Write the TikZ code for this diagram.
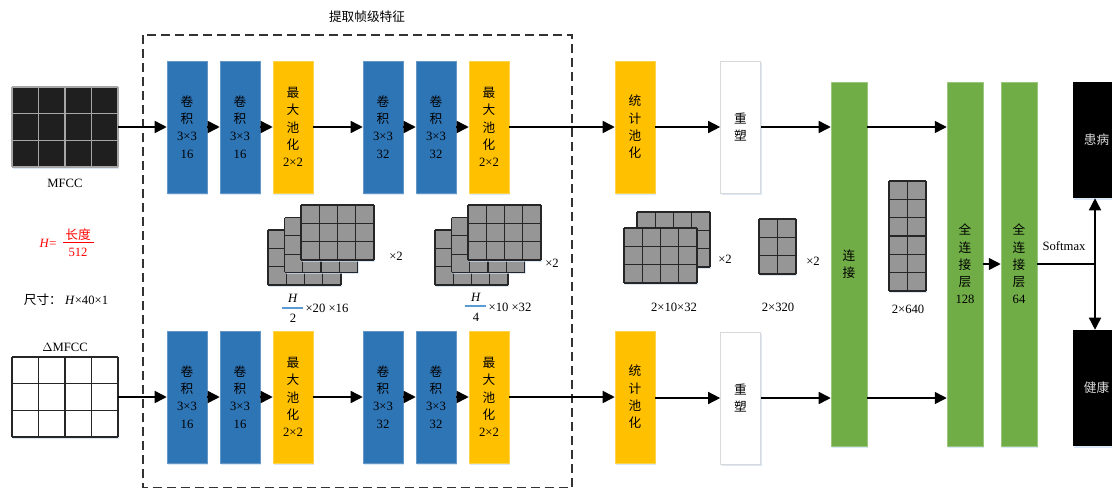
\documentclass[tikz,border=0pt]{standalone}
\usepackage{fontspec}
\setmainfont{Liberation Serif}
\newfontfamily\cjk{Noto Sans CJK SC}
\usetikzlibrary{arrows.meta,shadows}
\definecolor{cblue}{HTML}{2E75B6}
\definecolor{corange}{HTML}{FFC000}
\definecolor{cgreen}{HTML}{70AD47}
\definecolor{cgray}{HTML}{969696}
\definecolor{cglow}{HTML}{C9DDF2}
\definecolor{cbar}{HTML}{5B9BD5}
\newcommand\zh[1]{{\cjk #1}}
\newcommand\gridblk[7]{%
  \fill[#7,drop shadow={shadow xshift=1pt,shadow yshift=-1.5pt,fill=cglow,opacity=0.7}] (#1,#2) rectangle ++({#3*#5},{#4*#6});
  \foreach \ii in {0,...,#3} \draw[gl] ({#1+\ii*#5},#2) -- ++(0,{#4*#6});
  \foreach \jj in {0,...,#4} \draw[gl] (#1,{#2+\jj*#6}) -- ++({#3*#5},0);
}
\begin{document}
\begin{tikzpicture}[x=0.75pt,y=-0.75pt,font=\fontsize{9.5}{13}\selectfont,
  blk/.style={minimum width=30pt,minimum height=99pt,inner sep=0pt,align=center,
    drop shadow={shadow xshift=1pt,shadow yshift=-1.5pt,fill=cglow,opacity=0.7}},
  conv/.style={blk,fill=cblue,draw=cblue!75!white,line width=0.4pt},
  pool/.style={blk,fill=corange,draw=corange!70!white,line width=0.4pt},
  rshp/.style={blk,fill=white,draw=black!15,line width=0.5pt},
  fc/.style={blk,fill=cgreen,draw=cgreen!70!white,line width=0.4pt,minimum width=27pt,minimum height=273pt},
  outbox/.style={fill=black,minimum width=36pt,minimum height=87pt,inner sep=0pt,text=white!85!black,
    drop shadow={shadow xshift=1pt,shadow yshift=-1.5pt,fill=cglow,opacity=0.7}},
  arr/.style={-{Triangle[length=9pt,width=9pt]},line width=1.1pt},
  gl/.style={line width=0.8pt,draw=black!85},
  glw/.style={line width=0.8pt,draw=black!35},
  lbl/.style={inner sep=1pt},
]
\useasboundingbox (0,0) rectangle (1112,489);

% dashed frame and title
\draw[line width=0.9pt,draw=black!80,dash pattern=on 7pt off 3.5pt] (143,35) rectangle (572,487.5);
\node[lbl] (title) at (367,17) {\zh{提取帧级特征}};

% input grids
\node[minimum width=79.5pt,minimum height=60pt,inner sep=0pt] (mfcc) at (65,127) {};
\fill[black!88,drop shadow={shadow xshift=1pt,shadow yshift=-1.5pt,fill=cglow,opacity=0.7}] (12,87) rectangle (118,167);
\foreach \ii in {0,...,4} \draw[glw] ({12+\ii*26.5},87) -- ({12+\ii*26.5},167);
\foreach \jj in {0,...,3} \draw[glw] (12,{87+\jj*26.67}) -- (118,{87+\jj*26.67});
\node[lbl] (mfcclbl) at (65,183) {MFCC};

\node[minimum width=79.5pt,minimum height=60pt,inner sep=0pt] (dmfcc) at (65,397) {};
\fill[white,drop shadow={shadow xshift=1pt,shadow yshift=-1.5pt,fill=cglow,opacity=0.7}] (12,357) rectangle (118,437);
\foreach \ii in {0,...,4} \draw[gl] ({12+\ii*26.5},357) -- ({12+\ii*26.5},437);
\foreach \jj in {0,...,3} \draw[gl] (12,{357+\jj*26.67}) -- (118,{357+\jj*26.67});
\node[lbl] (dmfcclbl) at (65,347) {$\Delta$MFCC};

% red formula and size
\node[lbl,text=red] (heq) at (48,243) {\textit{H}=};
\node[lbl,text=red] (hnum) at (78,235) {\zh{长度}};
\draw[red,line width=0.6pt] (63,242.5) -- (94,242.5);
\node[lbl,text=red] (hden) at (78,252) {512};
\node[lbl] (size) at (66,300) {\zh{尺寸：} \textit{H}×40×1};

% top row
\node[conv] (a1) at (187,127) {\zh{卷}\\\zh{积}\\3×3\\16};
\node[conv] (a2) at (240,127) {\zh{卷}\\\zh{积}\\3×3\\16};
\node[pool] (a3) at (293,127) {\zh{最}\\\zh{大}\\\zh{池}\\\zh{化}\\2×2};
\node[conv] (a4) at (383,127) {\zh{卷}\\\zh{积}\\3×3\\32};
\node[conv] (a5) at (436,127) {\zh{卷}\\\zh{积}\\3×3\\32};
\node[pool] (a6) at (489,127) {\zh{最}\\\zh{大}\\\zh{池}\\\zh{化}\\2×2};
\node[pool] (a7) at (635,127) {\zh{统}\\\zh{计}\\\zh{池}\\\zh{化}};
\node[rshp] (a8) at (740.5,127) {\zh{重}\\\zh{塑}};

% bottom row
\node[conv] (b1) at (187,397) {\zh{卷}\\\zh{积}\\3×3\\16};
\node[conv] (b2) at (240,397) {\zh{卷}\\\zh{积}\\3×3\\16};
\node[pool] (b3) at (293,397) {\zh{最}\\\zh{大}\\\zh{池}\\\zh{化}\\2×2};
\node[conv] (b4) at (383,397) {\zh{卷}\\\zh{积}\\3×3\\32};
\node[conv] (b5) at (436,397) {\zh{卷}\\\zh{积}\\3×3\\32};
\node[pool] (b6) at (489,397) {\zh{最}\\\zh{大}\\\zh{池}\\\zh{化}\\2×2};
\node[pool] (b7) at (635,397) {\zh{统}\\\zh{计}\\\zh{池}\\\zh{化}};
\node[rshp] (b8) at (740.5,398) {\zh{重}\\\zh{塑}};

% right part
\node[fc] (conn) at (849,264) {\zh{连}\\\zh{接}};
\node[fc] (fc1) at (965,264) {\zh{全}\\\zh{连}\\\zh{接}\\\zh{层}\\128};
\node[fc] (fc2) at (1019,264) {\zh{全}\\\zh{连}\\\zh{接}\\\zh{层}\\64};
\node[outbox] (out1) at (1096.5,140) {\zh{患病}};
\node[outbox] (out2) at (1096.5,388) {\zh{健康}};

% arrows top
\draw[arr] (mfcc.east) -- (a1.west);
\draw[arr] (a1.east) -- (a2.west);
\draw[arr] (a2.east) -- (a3.west);
\draw[arr] (a3.east) -- (a4.west);
\draw[arr] (a4.east) -- (a5.west);
\draw[arr] (a5.east) -- (a6.west);
\draw[arr] (a6.east) -- (a7.west);
\draw[arr] (a7.east) -- (a8.west);
\draw[arr] (a8.east) -- (a8.east -| conn.west);
\draw[arr] (conn.east |- a8.east) -- (fc1.west |- a8.east);
% arrows bottom
\draw[arr] (dmfcc.east) -- (b1.west);
\draw[arr] (b1.east) -- (b2.west);
\draw[arr] (b2.east) -- (b3.west);
\draw[arr] (b3.east) -- (b4.west);
\draw[arr] (b4.east) -- (b5.west);
\draw[arr] (b5.east) -- (b6.west);
\draw[arr] (b6.east) -- (b7.west);
\draw[arr] (b7.east |- b8.east) -- (b8.west);
\draw[arr] (b8.east) -- (b8.east -| conn.west);
\draw[arr] (conn.east |- b8.east) -- (fc1.west |- b8.east);
% fc and softmax
\draw[arr] (fc1.east) -- (fc2.west);
\coordinate (sm) at (1095,264);
\draw[line width=0.8pt] (fc2.east) -- (sm);
\draw[arr] (sm) -- (sm |- out1.south);
\draw[arr] (sm) -- (sm |- out2.north);
\node[lbl] (smx) at (1064,246) {Softmax};

% feature map stacks
\gridblk{268}{230}{4}{3}{18.25}{18.33}{cgray}
\gridblk{284.5}{217.5}{4}{3}{18.25}{18.33}{cgray}
\gridblk{301}{205}{4}{3}{18.25}{18.33}{cgray}
\node[lbl] (x2a) at (396,256) {×2};
\node[lbl] (f1n) at (293,298) {\textit{H}};
\draw[cbar,line width=0.8pt] (282,308) -- (303,308);
\node[lbl] (f1d) at (293,318) {2};
\node[lbl,anchor=west] (f1r) at (304,308) {×20 ×16};

\gridblk{435}{230}{4}{3}{18.25}{18.33}{cgray}
\gridblk{451.5}{217.5}{4}{3}{18.25}{18.33}{cgray}
\gridblk{468}{205}{4}{3}{18.25}{18.33}{cgray}
\node[lbl] (x2b) at (552,263) {×2};
\node[lbl] (f2n) at (476,297) {\textit{H}};
\draw[cbar,line width=0.8pt] (465,306) -- (486,306);
\node[lbl] (f2d) at (476,317) {4};
\node[lbl,anchor=west] (f2r) at (487,307) {×10 ×32};

\gridblk{637}{212}{4}{3}{18.25}{18.33}{cgray}
\gridblk{624}{228}{4}{3}{18.25}{18.33}{cgray}
\node[lbl] (x2c) at (725,259) {×2};
\node[lbl] (f3) at (674,307) {2×10×32};

\gridblk{759}{219}{2}{3}{18.5}{18.33}{cgray}
\node[lbl] (x2d) at (813,261) {×2};
\node[lbl] (f4) at (778,307) {2×320};

\gridblk{889}{181}{2}{6}{18.5}{18.33}{cgray}
\node[lbl] (f5) at (908,309) {2×640};
\end{tikzpicture}
\end{document}
